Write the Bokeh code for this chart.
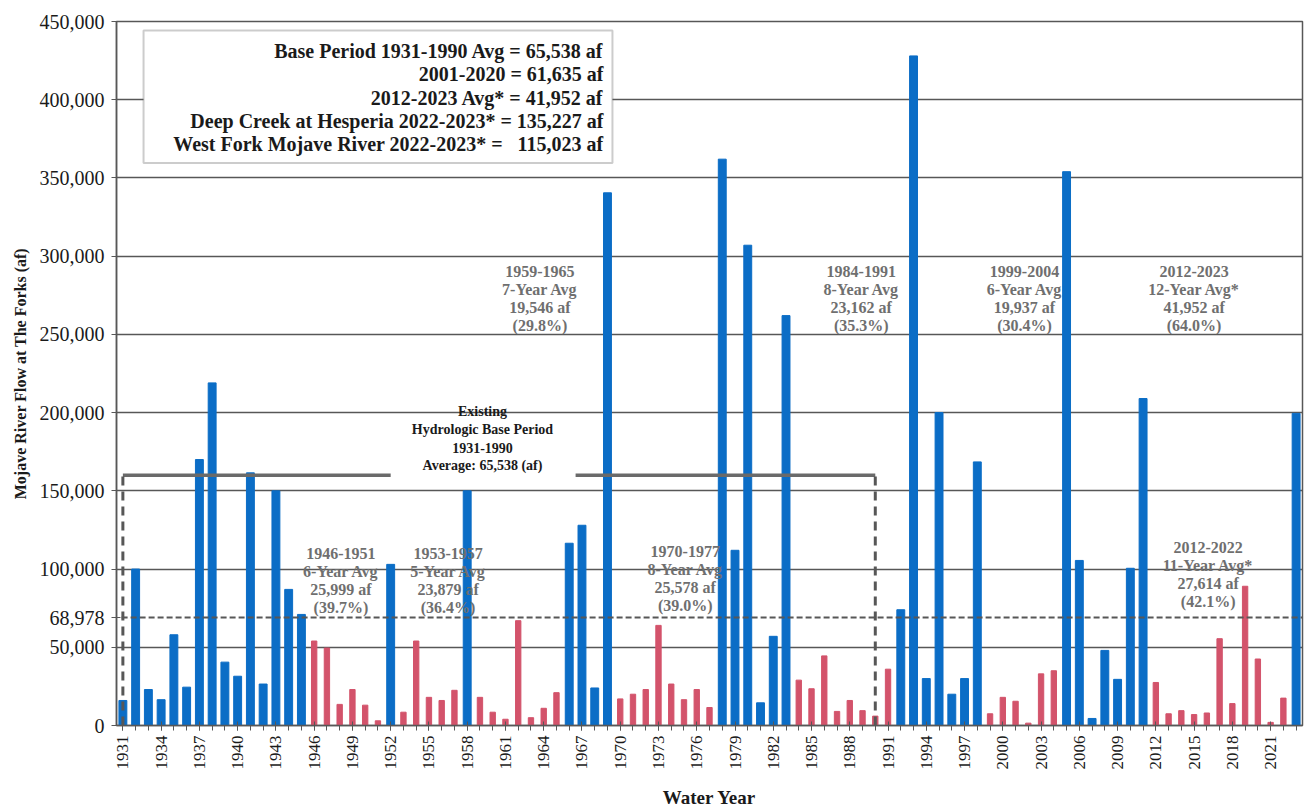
import math
from bokeh.plotting import figure
from bokeh.models import (Range1d, FixedTicker, NumeralTickFormatter, BoxAnnotation,
                          Label, ColumnDataSource)
from bokeh.embed import file_html
from bokeh.resources import INLINE

# ---------------- data ----------------
years = list(range(1931, 2024))
flow_af = [
    16000, 100000, 23000, 16500, 58000, 24500, 170000, 219000, 40500, 31500,   # 1931-1940
    161500, 26500, 150000, 87000, 71000, 54000, 49500, 13500, 23000, 13000,    # 1941-1950
    3000, 103000, 8500, 54000, 18000, 16000, 22500, 150000, 18000, 8500,       # 1951-1960
    4000, 67000, 5000, 11000, 21000, 116500, 128000, 24000, 340500, 17000,     # 1961-1970
    20000, 23000, 64000, 26500, 16500, 23000, 11500, 362000, 112000, 307000,   # 1971-1980
    14500, 57000, 262000, 29000, 23500, 44500, 9000, 16000, 9500, 6000,        # 1981-1990
    36000, 74000, 428000, 30000, 200000, 20000, 30000, 168500, 7500, 18000,    # 1991-2000
    15500, 1500, 33000, 35000, 354000, 105500, 4500, 48000, 29500, 100500,     # 2001-2010
    209000, 27500, 7500, 9500, 7000, 8000, 55500, 14000, 89000, 42500,         # 2011-2020
    2000, 17500, 199500,                                                       # 2021-2023
]
dry_periods = [(1946, 1951), (1953, 1957), (1959, 1965), (1970, 1977),
               (1984, 1991), (1999, 2004), (2012, 2022)]
period_labels = [
    ["1946-1951", "6-Year Avg", "25,999 af", "(39.7%)"],
    ["1953-1957", "5-Year Avg", "23,879 af", "(36.4%)"],
    ["1959-1965", "7-Year Avg", "19,546 af", "(29.8%)"],
    ["1970-1977", "8-Year Avg", "25,578 af", "(39.0%)"],
    ["1984-1991", "8-Year Avg", "23,162 af", "(35.3%)"],
    ["1999-2004", "6-Year Avg", "19,937 af", "(30.4%)"],
    ["2012-2023", "12-Year Avg*", "41,952 af", "(64.0%)"],
    ["2012-2022", "11-Year Avg*", "27,614 af", "(42.1%)"],
]
base_lines = ["Existing", "Hydrologic Base Period", "1931-1990", "Average: 65,538 (af)"]
base_period = (1931, 1990)
ref_level = 68978
y_ticks = [0, 50000, 68978, 100000, 150000, 200000, 250000, 300000, 350000, 400000, 450000]
grid_ticks = [50000, 100000, 150000, 200000, 250000, 300000, 350000, 400000, 450000]
x_label_years = list(range(1931, 2022, 3))
legend_lines = [
    "Base Period 1931-1990 Avg = 65,538 af",
    "2001-2020 = 61,635 af",
    "2012-2023 Avg* = 41,952 af",
    "Deep Creek at Hesperia 2022-2023* = 135,227 af",
    "West Fork Mojave River 2022-2023* =\u00a0\u00a0\u00a0115,023 af",
]

# ---------------- styling / layout ----------------
SERIF = "Liberation Serif"
BLUE = "#0b6dc6"
RED = "#d3536b"
GRAY_TXT = "#6f6f6f"
LINE_GRAY = "#575757"

def is_dry(y):
    return any(a <= y <= b for a, b in dry_periods)

wet = dict(x=[], top=[])
dry = dict(x=[], top=[])
for y, v in zip(years, flow_af):
    d = dry if is_dry(y) else wet
    d["x"].append(y)
    d["top"].append(v)

p = figure(width=1305, height=810, output_backend="svg", toolbar_location=None,
           x_range=Range1d(1930.5, 2023.5), y_range=Range1d(0, 450000),
           min_border_left=116, min_border_right=3, min_border_top=21, min_border_bottom=82)
p.background_fill_color = "white"
p.outline_line_color = LINE_GRAY
p.outline_line_width = 1.5

p.xgrid.visible = False
p.ygrid.ticker = FixedTicker(ticks=grid_ticks)
p.ygrid.grid_line_color = LINE_GRAY
p.ygrid.grid_line_width = 1.4

# axes
p.yaxis.ticker = FixedTicker(ticks=y_ticks)
p.yaxis.formatter = NumeralTickFormatter(format="0,0")
p.yaxis.axis_label = "Mojave River Flow at The Forks (af)"
p.xaxis.ticker = FixedTicker(ticks=x_label_years, minor_ticks=years)
p.xaxis.axis_label = "Water Year"
p.xaxis.major_label_orientation = math.pi / 2
for ax in (p.xaxis, p.yaxis):
    ax.axis_line_color = LINE_GRAY
    ax.axis_line_width = 1.5
    ax.major_tick_line_color = LINE_GRAY
    ax.minor_tick_line_color = LINE_GRAY
    ax.major_tick_out = 5
    ax.major_tick_in = 4
    ax.major_label_text_font = SERIF
    ax.major_label_text_color = "#1a1a1a"
    ax.axis_label_text_font = SERIF
    ax.axis_label_text_font_style = "bold"
    ax.axis_label_text_color = "#1a1a1a"
p.yaxis.major_label_text_font_size = "20px"
p.yaxis.major_label_standoff = 7
p.yaxis.axis_label_text_font_size = "16px"
p.yaxis.axis_label_standoff = 8
p.yaxis.minor_tick_line_color = None
p.xaxis.major_label_text_font_size = "17px"
p.xaxis.major_label_standoff = 5
p.xaxis.minor_tick_out = 5
p.xaxis.minor_tick_in = 0
p.xaxis.axis_label_text_font_size = "19px"
p.xaxis.axis_label_standoff = 14

# bars
p.vbar(x="x", top="top", width=0.62, source=ColumnDataSource(wet), color=BLUE)
p.vbar(x="x", top="top", width=0.42, source=ColumnDataSource(dry), color=RED)

# reference dashed line
p.line([base_period[0] - 0.1, 2023.5], [ref_level, ref_level], line_color=LINE_GRAY,
       line_width=2, line_dash="6 3")

# base-period bracket
bracket_y = 160000
p.line([base_period[0], 1952.0], [bracket_y, bracket_y], line_color="#6a6a6a", line_width=3.5)
p.line([1966.5, base_period[1]], [bracket_y, bracket_y], line_color="#6a6a6a", line_width=3.5)
p.segment(x0=[base_period[0], base_period[1]], y0=[0, 0],
          x1=[base_period[0], base_period[1]], y1=[bracket_y, bracket_y],
          line_color=LINE_GRAY, line_width=3, line_dash="9 6")

# legend box
p.add_layout(BoxAnnotation(left=1932.62, right=1969.39, top=444300, bottom=359600,
                           fill_color="white", fill_alpha=1.0,
                           line_color=LINE_GRAY, line_width=2))
legend_y = [430900, 416300, 401000, 386400, 371700]
for txt, yy in zip(legend_lines, legend_y):
    p.add_layout(Label(x=1968.69, y=yy, text=txt, text_align="right", text_baseline="middle",
                       text_font=SERIF, text_font_style="bold", text_font_size="20px",
                       text_color="#1a1a1a"))

# period annotations (centre x, first-line y)
anno_pos = [
    (1948.1, 110000), (1956.5, 110000), (1963.7, 290000), (1975.1, 111000),
    (1988.9, 290000), (2001.7, 290000), (2015.0, 290000), (2016.1, 114000),
]
step = 11500
for lines, (cx, cy) in zip(period_labels, anno_pos):
    for i, t in enumerate(lines):
        p.add_layout(Label(x=cx, y=cy - i * step, text=t, text_align="center",
                           text_baseline="middle", text_font=SERIF, text_font_style="bold",
                           text_font_size="16px", text_color=GRAY_TXT))

for i, t in enumerate(base_lines):
    p.add_layout(Label(x=1959.2, y=200700 - i * 11600, text=t, text_align="center",
                       text_baseline="middle", text_font=SERIF, text_font_style="bold",
                       text_font_size="14px", text_color="#1a1a1a"))

open("out.html", "w").write(file_html(p, INLINE))
